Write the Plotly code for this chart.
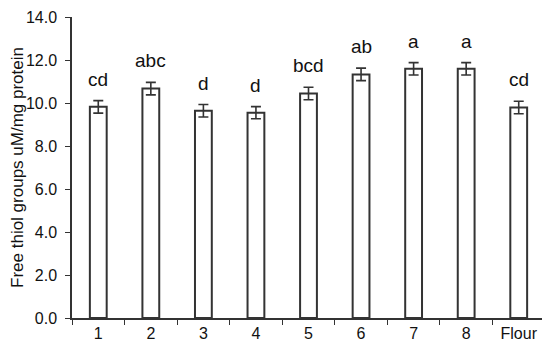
import plotly.graph_objects as go

# Data
samples = ["1", "2", "3", "4", "5", "6", "7", "8", "Flour"]
thiol = [9.82, 10.67, 9.64, 9.55, 10.44, 11.33, 11.59, 11.59, 9.79]
sd = [0.29, 0.29, 0.29, 0.28, 0.29, 0.29, 0.29, 0.29, 0.29]
letters = ["cd", "abc", "d", "d", "bcd", "ab", "a", "a", "cd"]

line_col = "#333333"

fig = go.Figure()

fig.add_trace(go.Bar(
    x=samples, y=thiol,
    width=0.32,
    marker=dict(color="white", line=dict(color=line_col, width=2)),
    error_y=dict(type="data", array=sd, color=line_col, thickness=1.6, width=5),
    showlegend=False,
))

# significance letters above the error bars (x given as category index)
for i, (v, e, t) in enumerate(zip(thiol, sd, letters)):
    fig.add_annotation(x=i, y=v + e, text=t, showarrow=False,
                       yanchor="bottom", yshift=9,
                       font=dict(size=19, color="#111111"))

# page body has an 8px margin, so the figure is sized to fit inside the window
fig.update_layout(
    width=542, height=340,
    margin=dict(l=64, r=5, t=9, b=30),
    plot_bgcolor="white", paper_bgcolor="white",
    font=dict(family="Liberation Sans, Arial, sans-serif", color="#111111", size=15),
)

fig.update_xaxes(
    type="category", range=[-0.5, 8.5],
    showline=True, linecolor=line_col, linewidth=1.5,
    ticks="outside", tickson="boundaries", ticklen=5, tickcolor=line_col,
    tickfont=dict(size=16), showgrid=False, ticklabeloverflow="allow",
    automargin=False,
)
fig.update_yaxes(
    range=[0, 14], dtick=2, tickformat=".1f",
    showline=True, linecolor=line_col, linewidth=1.5,
    ticks="outside", ticklen=5, tickcolor=line_col, ticklabelstandoff=5,
    tickfont=dict(size=16), showgrid=False, zeroline=False,
    ticklabeloverflow="allow", automargin=False,
    title=dict(text="Free thiol groups uM/mg protein", font=dict(size=17), standoff=4),
)

fig.write_html("out.html")
